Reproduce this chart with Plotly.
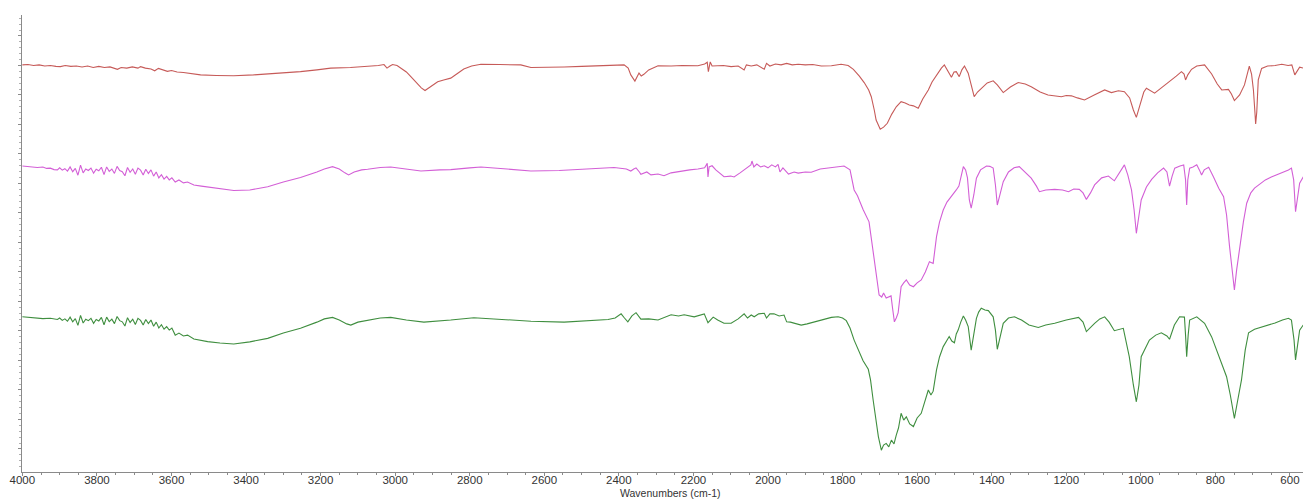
import plotly.graph_objects as go

# FTIR spectra, stacked (transmittance, arbitrary offset units)
red_wn = [4000, 3985, 3970, 3955, 3940, 3925, 3910, 3898, 3885, 3870, 3855, 3840, 3825, 3810, 3795, 3780,
          3765, 3752, 3745, 3735, 3720, 3705, 3690, 3683, 3670, 3655, 3645, 3635, 3620, 3611, 3600, 3585,
          3568, 3550, 3522, 3480, 3433, 3380, 3340, 3300, 3254, 3210, 3173, 3120, 3074, 3045, 3030, 3022,
          3014, 3007, 2995, 2985, 2970, 2958, 2945, 2930, 2920, 2910, 2898, 2886, 2870, 2851, 2835, 2816,
          2795, 2770, 2720, 2663, 2636, 2600, 2547, 2500, 2450, 2400, 2386, 2375, 2368, 2357, 2346, 2340,
          2333, 2320, 2310, 2295, 2260, 2230, 2188, 2170, 2163, 2160, 2155, 2150, 2120, 2099, 2080, 2070,
          2064, 2058, 2045, 2030, 2018, 2010, 2004, 1995, 1980, 1965, 1950, 1935, 1919, 1900, 1880, 1857,
          1830, 1804, 1785, 1771, 1755, 1742, 1730, 1723, 1715, 1710, 1699, 1690, 1680, 1668, 1656, 1643,
          1632, 1621, 1610, 1597, 1585, 1570, 1560, 1548, 1535, 1527, 1515, 1508, 1501, 1495, 1487, 1480,
          1473, 1463, 1455, 1447, 1438, 1428, 1412, 1396, 1385, 1369, 1350, 1329, 1310, 1294, 1270, 1249,
          1230, 1213, 1200, 1186, 1170, 1151, 1125, 1097, 1079, 1060, 1044, 1030, 1020, 1012, 1003, 992,
          985, 975, 963, 945, 926, 905, 891, 884, 880, 874, 864, 850, 829, 810, 795, 783,
          765, 757, 749, 735, 722, 715, 709, 703, 698, 694, 692, 689, 685, 676, 660, 640,
          622, 605, 595, 587, 580, 574, 561]
red_t = [140.2, 140.3, 140.0, 140.2, 139.8, 140.0, 139.7, 139.6, 140.0, 139.7, 139.8, 139.5, 139.8, 139.3, 139.7, 139.3,
         139.5, 139.0, 138.7, 139.3, 139.1, 139.5, 139.1, 139.6, 139.1, 138.8, 138.2, 139.0, 138.5, 138.0, 138.3, 137.8,
         137.6, 137.3, 136.8, 136.6, 136.5, 136.8, 137.1, 137.5, 137.9, 138.5, 139.1, 139.3, 139.6, 140.0, 140.3, 139.1,
         139.8, 140.3, 140.0, 139.0, 137.8, 136.2, 134.4, 132.4, 131.5, 132.4, 133.7, 134.5, 135.1, 135.7, 137.1, 138.8,
         139.8, 140.4, 140.3, 140.2, 139.3, 139.3, 139.5, 139.7, 140.0, 140.1, 140.2, 139.1, 136.8, 134.7, 137.4, 136.4,
         137.0, 138.5, 139.1, 139.9, 139.8, 140.0, 139.9, 140.5, 141.1, 137.9, 141.2, 139.8, 140.0, 139.6, 139.8, 139.1,
         138.5, 140.2, 139.8, 140.2, 139.3, 138.7, 140.7, 139.8, 140.5, 140.2, 140.7, 140.2, 140.4, 140.2, 140.3, 139.8,
         139.9, 140.4, 140.0, 138.7, 136.4, 134.2, 131.7, 129.4, 124.9, 121.5, 118.4, 119.1, 120.4, 123.5, 126.0, 127.7,
         127.3, 126.6, 126.3, 125.5, 128.6, 131.7, 134.4, 136.8, 139.1, 140.2, 137.8, 136.0, 137.8, 137.9, 136.2, 138.5,
         139.8, 137.4, 133.4, 129.4, 131.0, 132.3, 134.1, 134.8, 133.4, 130.8, 132.7, 134.2, 133.7, 132.8, 131.0, 130.0,
         129.7, 129.4, 129.8, 129.7, 129.0, 128.3, 130.0, 131.7, 130.8, 131.4, 131.1, 129.0, 124.9, 122.4, 126.3, 131.0,
         132.3, 131.4, 130.6, 132.4, 134.2, 136.4, 137.9, 137.1, 135.1, 136.8, 138.7, 139.8, 140.2, 137.1, 133.7, 131.7,
         131.9, 130.3, 128.1, 130.0, 133.4, 137.1, 139.8, 137.1, 131.7, 124.2, 120.2, 124.2, 135.1, 139.0, 139.8, 140.0,
         140.4, 140.0, 140.2, 136.8, 138.1, 139.4, 139.0]

magenta_wn = [4000, 3990, 3975, 3960, 3945, 3935, 3925, 3915, 3906, 3900, 3893, 3886, 3879, 3872, 3865, 3858,
              3851, 3844, 3837, 3830, 3823, 3816, 3809, 3802, 3795, 3788, 3781, 3774, 3767, 3760, 3753, 3746,
              3739, 3732, 3725, 3718, 3711, 3704, 3697, 3690, 3683, 3676, 3669, 3662, 3655, 3648, 3641, 3634,
              3627, 3620, 3613, 3606, 3599, 3590, 3580, 3568, 3557, 3540, 3520, 3503, 3470, 3433, 3390, 3342,
              3300, 3254, 3210, 3190, 3168, 3150, 3135, 3125, 3110, 3090, 3074, 3040, 3012, 2970, 2931, 2880,
              2851, 2800, 2770, 2700, 2636, 2560, 2480, 2413, 2380, 2368, 2360, 2354, 2345, 2341, 2325, 2314,
              2295, 2279, 2260, 2233, 2210, 2188, 2170, 2163, 2161, 2158, 2150, 2140, 2125, 2118, 2100, 2091,
              2075, 2060, 2053, 2046, 2043, 2038, 2030, 2020, 2010, 2000, 1990, 1980, 1973, 1968, 1960, 1945,
              1930, 1919, 1900, 1884, 1860, 1830, 1810, 1796, 1780, 1769, 1760, 1745, 1729, 1722, 1715, 1708,
              1702, 1695, 1690, 1683, 1675, 1670, 1666, 1661, 1656, 1651, 1647, 1643, 1636, 1629, 1620, 1610,
              1600, 1589, 1578, 1567, 1557, 1548, 1540, 1530, 1520, 1508, 1500, 1495, 1488, 1480, 1476, 1470,
              1465, 1460, 1455, 1448, 1441, 1430, 1414, 1405, 1396, 1390, 1385, 1378, 1369, 1355, 1340, 1326,
              1310, 1294, 1280, 1272, 1255, 1231, 1210, 1194, 1180, 1165, 1155, 1146, 1135, 1124, 1105, 1087,
              1071, 1055, 1044, 1035, 1025, 1018, 1012, 1006, 999, 985, 971, 955, 939, 930, 923, 916,
              909, 895, 885, 880, 877, 874, 869, 860, 850, 843, 837, 830, 818, 805, 791, 778,
              770, 762, 755, 749, 743, 735, 725, 716, 705, 695, 680, 666, 650, 630, 615, 604,
              596, 590, 585, 580, 574, 561]
magenta_t = [105.9, 105.8, 105.6, 105.4, 105.6, 105.1, 105.2, 104.7, 104.6, 105.3, 104.5, 105.0, 104.2, 105.6, 104.0, 105.1,
             102.8, 106.2, 103.6, 104.9, 104.4, 105.2, 103.5, 104.8, 104.3, 105.5, 103.0, 105.6, 104.1, 104.9, 103.4, 105.8,
             104.4, 104.0, 102.6, 105.4, 103.8, 104.9, 103.1, 105.2, 104.5, 102.9, 104.8, 103.4, 104.6, 102.5, 103.9, 101.9,
             103.0, 101.5, 102.4, 101.2, 101.9, 100.5, 101.2, 100.2, 100.5, 99.5, 99.1, 98.8, 98.0, 97.6, 97.8, 98.9,
             100.5, 102.0, 103.9, 104.9, 105.7, 104.9, 103.6, 102.9, 103.9, 104.6, 104.8, 105.4, 105.6, 104.9, 104.2, 104.6,
             104.7, 105.3, 105.6, 104.9, 104.2, 104.4, 104.9, 105.4, 104.9, 104.2, 104.9, 105.3, 103.9, 103.1, 103.9, 102.9,
             103.2, 102.6, 103.6, 104.2, 104.6, 104.9, 105.3, 106.8, 102.2, 105.6, 106.0, 104.6, 102.9, 102.3, 102.5, 102.2,
             103.6, 104.9, 105.7, 106.3, 107.6, 105.6, 106.6, 105.6, 106.0, 105.3, 106.3, 105.6, 106.5, 103.9, 105.3, 103.2,
             103.9, 103.5, 103.9, 103.8, 104.9, 105.4, 105.8, 105.9, 104.6, 97.8, 95.8, 91.2, 87.0, 80.8, 74.1, 67.3,
             62.2, 61.5, 62.9, 61.2, 61.5, 61.9, 57.8, 53.1, 54.4, 56.1, 60.5, 65.0, 66.3, 67.3, 65.6, 65.0,
             66.3, 67.3, 70.0, 73.5, 72.9, 82.0, 86.9, 91.0, 93.7, 95.5, 96.8, 97.8, 99.1, 103.9, 105.7, 104.6,
             101.9, 94.4, 91.6, 96.1, 101.8, 104.6, 105.9, 105.8, 105.2, 99.5, 92.7, 96.1, 100.6, 103.9, 105.3, 105.7,
             103.9, 101.8, 99.1, 97.2, 97.8, 98.0, 97.8, 97.2, 98.1, 98.0, 96.8, 94.6, 96.8, 99.5, 101.9, 102.5,
             100.9, 103.9, 106.3, 102.9, 97.8, 91.0, 83.1, 88.3, 94.4, 98.8, 101.4, 103.6, 105.2, 103.9, 99.1, 102.5,
             105.2, 105.9, 106.3, 101.2, 92.7, 101.2, 105.2, 105.6, 106.3, 104.6, 102.9, 104.6, 105.5, 102.2, 98.4, 95.5,
             89.3, 78.6, 70.7, 63.9, 70.7, 78.6, 86.9, 93.3, 96.8, 98.4, 99.8, 101.2, 102.2, 103.2, 103.9, 104.6,
             105.2, 101.2, 90.4, 94.4, 100.1, 102.9]

green_wn = [4000, 3990, 3975, 3960, 3945, 3925, 3915, 3906, 3900, 3893, 3886, 3879, 3872, 3865, 3858, 3851,
            3844, 3837, 3830, 3823, 3816, 3809, 3802, 3795, 3788, 3781, 3774, 3767, 3760, 3753, 3746, 3739,
            3732, 3725, 3718, 3711, 3704, 3697, 3690, 3683, 3676, 3669, 3662, 3655, 3648, 3641, 3634, 3627,
            3620, 3613, 3606, 3599, 3590, 3580, 3568, 3557, 3540, 3520, 3503, 3470, 3433, 3390, 3342, 3300,
            3254, 3210, 3190, 3168, 3150, 3130, 3119, 3100, 3074, 3040, 3012, 2970, 2923, 2880, 2851, 2789,
            2720, 2636, 2547, 2456, 2429, 2410, 2394, 2385, 2376, 2365, 2354, 2341, 2320, 2295, 2275, 2260,
            2240, 2225, 2198, 2180, 2171, 2161, 2147, 2135, 2118, 2099, 2080, 2064, 2055, 2045, 2037, 2025,
            2010, 2004, 1995, 1984, 1970, 1957, 1950, 1940, 1925, 1911, 1895, 1876, 1850, 1830, 1812, 1800,
            1790, 1780, 1769, 1758, 1745, 1731, 1725, 1718, 1711, 1704, 1696, 1690, 1683, 1676, 1669, 1662,
            1656, 1650, 1643, 1636, 1629, 1620, 1610, 1600, 1589, 1580, 1570, 1563, 1557, 1548, 1540, 1530,
            1520, 1514, 1507, 1500, 1495, 1490, 1483, 1476, 1470, 1463, 1455, 1448, 1441, 1435, 1428, 1418,
            1409, 1396, 1390, 1385, 1377, 1369, 1355, 1339, 1320, 1300, 1275, 1255, 1231, 1200, 1167, 1155,
            1146, 1135, 1124, 1110, 1097, 1085, 1071, 1047, 1031, 1020, 1012, 1005, 999, 977, 960, 945,
            930, 923, 910, 896, 883, 880, 877, 873, 869, 850, 829, 810, 791, 770, 760, 749,
            740, 730, 720, 711, 695, 680, 663, 640, 620, 604, 596, 589, 585, 580, 574, 561]
green_t = [54.8, 54.7, 54.6, 54.4, 54.2, 54.3, 54.1, 53.9, 54.4, 53.6, 54.1, 53.3, 54.7, 53.1, 54.2, 51.9,
           55.3, 52.7, 54.0, 53.5, 54.3, 52.6, 53.9, 53.4, 54.6, 52.1, 54.7, 53.2, 54.0, 52.5, 54.9, 53.5,
           53.1, 51.7, 54.5, 52.9, 54.0, 52.2, 54.3, 53.6, 52.0, 53.9, 52.5, 53.7, 51.6, 53.0, 51.0, 52.1,
           50.6, 51.5, 50.3, 51.0, 48.6, 49.3, 48.3, 48.6, 47.3, 46.8, 46.4, 45.9, 45.6, 46.3, 47.5, 49.3,
           50.9, 53.0, 54.1, 54.6, 53.7, 52.4, 52.0, 53.0, 53.7, 54.4, 54.6, 53.7, 53.0, 53.4, 53.7, 54.5,
           53.9, 53.3, 53.0, 53.7, 53.9, 54.4, 55.8, 54.4, 53.1, 55.1, 56.2, 54.0, 54.1, 53.7, 54.7, 55.5,
           55.1, 55.5, 54.8, 55.4, 55.8, 52.8, 54.7, 53.7, 52.6, 52.6, 54.1, 55.8, 54.4, 55.4, 54.8, 55.8,
           56.0, 54.4, 55.8, 55.8, 55.1, 55.4, 53.1, 53.0, 52.4, 52.0, 52.4, 53.1, 54.1, 54.6, 54.8, 54.4,
           53.5, 51.0, 46.9, 43.5, 39.9, 37.0, 33.4, 26.6, 19.8, 14.2, 9.6, 11.3, 11.9, 10.7, 13.0, 11.7,
           14.7, 17.1, 22.1, 19.8, 20.9, 18.5, 17.6, 20.5, 22.1, 25.9, 30.0, 28.3, 29.6, 36.8, 41.2, 44.7,
           46.9, 48.1, 46.6, 46.0, 49.0, 50.3, 53.0, 55.1, 53.7, 51.5, 43.5, 48.6, 54.3, 56.4, 57.7, 57.1,
           56.9, 54.8, 50.3, 43.8, 48.6, 52.6, 54.4, 54.8, 53.7, 52.0, 51.2, 52.0, 52.6, 53.7, 54.6, 53.0,
           49.8, 51.3, 52.6, 54.1, 54.8, 53.0, 50.1, 50.9, 41.3, 31.7, 26.0, 31.7, 41.3, 46.9, 48.6, 49.4,
           48.3, 47.2, 52.0, 54.8, 54.7, 48.6, 41.3, 48.6, 53.7, 54.8, 52.6, 48.0, 41.3, 34.5, 28.3, 20.4,
           26.6, 33.4, 43.5, 49.4, 50.6, 51.2, 51.7, 52.7, 53.7, 54.3, 53.7, 46.9, 40.2, 45.2, 50.3, 52.6]

x_ticks = [4000, 3800, 3600, 3400, 3200, 3000, 2800, 2600, 2400, 2200, 2000, 1800, 1600, 1400, 1200, 1000, 800, 600]

series = [
    (red_wn, red_t, "#c65a58"),
    (magenta_wn, magenta_t, "#d35fd6"),
    (green_wn, green_t, "#3f8e3f"),
]

fig = go.Figure()
for wn, t, color in series:
    fig.add_trace(go.Scatter(x=wn, y=t, mode="lines",
                             line=dict(color=color, width=1.1), showlegend=False))

axis_grey = "#8a8a8a"
fig.update_layout(
    width=1303, height=499,
    margin=dict(l=22, r=0, t=15, b=27),
    paper_bgcolor="white", plot_bgcolor="white",
    font=dict(family="Liberation Sans, Arial, sans-serif", size=12, color="#333333"),
)
fig.update_xaxes(
    range=[4001, 565], tickmode="array", tickvals=x_ticks, ticktext=[str(v) for v in x_ticks],
    showgrid=False, zeroline=False, showline=True, linecolor=axis_grey, linewidth=1,
    ticks="outside", ticklen=3, tickcolor=axis_grey, tickfont=dict(size=11.5, color="#333333"),
    ticklabelstandoff=-6,
    minor=dict(dtick=50, ticks="outside", ticklen=2, tickcolor=axis_grey),
    automargin=False,
)
fig.update_yaxes(
    range=[2.2, 157.1], dtick=10, tick0=0, showticklabels=False,
    showgrid=False, zeroline=False, showline=True, linecolor=axis_grey, linewidth=1,
    ticks="outside", ticklen=3, tickcolor=axis_grey,
    minor=dict(dtick=2, ticks="outside", ticklen=2, tickcolor="#b0b0b0"),
    automargin=False,
)
# x-axis title, placed just under the tick labels
fig.add_annotation(text="Wavenumbers (cm-1)", xref="paper", yref="paper", x=0.506, y=0,
                   yshift=-21, yanchor="middle", showarrow=False,
                   font=dict(size=10.5, color="#333333"))

fig.write_html("out.html")
